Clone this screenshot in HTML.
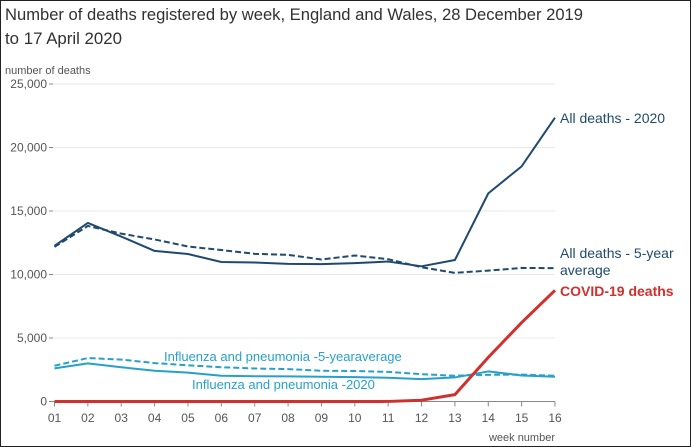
<!DOCTYPE html>
<html><head><meta charset="utf-8"><style>
html,body{margin:0;padding:0;background:#fff;}
svg{display:block;font-family:"Liberation Sans",sans-serif;}
</style></head><body>
<svg id="chart" width="691" height="447" viewBox="0 0 691 447">
<rect x="0.5" y="0.5" width="690" height="446" fill="#fff" stroke="#222" stroke-width="1"/>
<text x="5" y="20" font-size="17" fill="#323132" textLength="578" lengthAdjust="spacingAndGlyphs">Number of deaths registered by week, England and Wales, 28 December 2019</text>
<text x="5" y="44" font-size="17" fill="#323132" textLength="117" lengthAdjust="spacingAndGlyphs">to 17 April 2020</text>
<text x="5" y="74" font-size="11" fill="#555">number of deaths</text>
<text x="555" y="441" font-size="11" fill="#555" text-anchor="end">week number</text>
<g id="grid"></g><g id="series"></g><g id="labels"></g>
</svg>
<script>
const weeks = ["01","02","03","04","05","06","07","08","09","10","11","12","13","14","15","16"];
const yTicks = [0,5000,10000,15000,20000,25000];
const yTickLabels = ["0","5,000","10,000","15,000","20,000","25,000"];
const allDeaths2020 = [12254,14058,12990,11856,11612,10986,10944,10841,10816,10895,11019,10645,11141,16387,18516,22351];
const allDeathsAvg = [12175,13822,13216,12760,12206,11925,11627,11548,11183,11498,11205,10573,10130,10305,10520,10497];
const covidDeaths = [0,0,0,0,0,0,0,0,0,0,5,103,539,3475,6213,8758];
const flu2020 = [2605,3000,2700,2421,2270,2026,1990,1980,1950,1920,1870,1763,1895,2368,2050,1947];
const fluAvg = [2816,3421,3300,3026,2850,2700,2600,2550,2421,2400,2330,2150,2026,2100,2120,2026];

const NS="http://www.w3.org/2000/svg";
const x0=54.5,x1=555,y0=401.5,y1=84,ymax=25000;
function xs(i){return x0+(x1-x0)*i/(weeks.length-1);}
function ys(v){return y0-(y0-y1)*v/ymax;}
function mk(tag,attrs,parent){const e=document.createElementNS(NS,tag);for(const k in attrs)e.setAttribute(k,attrs[k]);parent.appendChild(e);return e;}
const grid=document.getElementById('grid'),ser=document.getElementById('series'),lab=document.getElementById('labels');
yTicks.forEach((t,i)=>{
  const y=ys(t);
  const l=mk('line',{x1:52,x2:555,y1:y,y2:y,stroke:t===0?'#888':'#e8e8e8','stroke-width':1},grid);
  
  
  const tk=mk('line',{x1:49,x2:53,y1:y,y2:y,stroke:'#888'},grid);
  
  
  const tx=mk('text',{x:47,y:y+4,'font-size':12,fill:'#555','text-anchor':'end'},grid);
  tx.textContent=yTickLabels[i];
  
  
});
weeks.forEach((w,i)=>{
  const x=xs(i);
  const tk=mk('line',{x1:x,x2:x,y1:y0,y2:y0+5,stroke:'#888'},grid);
  
  
  const tx=mk('text',{x:x,y:422,'font-size':12,fill:'#555','text-anchor':'middle'},grid);
  tx.textContent=w;
  
  
});
function line(data,color,width,dash,name){
  const p=mk('polyline',{points:data.map((v,i)=>xs(i)+','+ys(v)).join(' '),fill:'none',stroke:color,'stroke-width':width,'stroke-linejoin':'round'},ser);
  if(dash)p.setAttribute('stroke-dasharray',dash);
  
  
}
line(fluAvg,'#27a0cc',2,'6,3','line-flu-avg');
line(flu2020,'#27a0cc',2,null,'line-flu-2020');
line(allDeathsAvg,'#1f4a6e',2,'6,3','line-all-deaths-avg');
line(allDeaths2020,'#1f4a6e',2,null,'line-all-deaths-2020');
line(covidDeaths,'#d0312d',3,null,'line-covid-deaths');
function label(txt,x,y,color,name,opts){
  const t=mk('text',Object.assign({x:x,y:y,'font-size':14,fill:color},opts||{}),lab);
  t.textContent=txt;
  
  
}
label('All deaths - 2020',560,123,'#1f4a6e','label-all-deaths-2020');
label('All deaths - 5-year',560,258,'#1f4a6e','label-all-deaths-avg-1');
label('average',560,275,'#1f4a6e','label-all-deaths-avg-2');
label('COVID-19 deaths',560,296,'#d0312d','label-covid-deaths',{'font-weight':'bold'});
label('Influenza and pneumonia -5-yearaverage',164,361,'#27a0cc','label-flu-avg',{'font-size':13});
label('Influenza and pneumonia -2020',192,389,'#27a0cc','label-flu-2020',{'font-size':13});
</script>
</body></html>
